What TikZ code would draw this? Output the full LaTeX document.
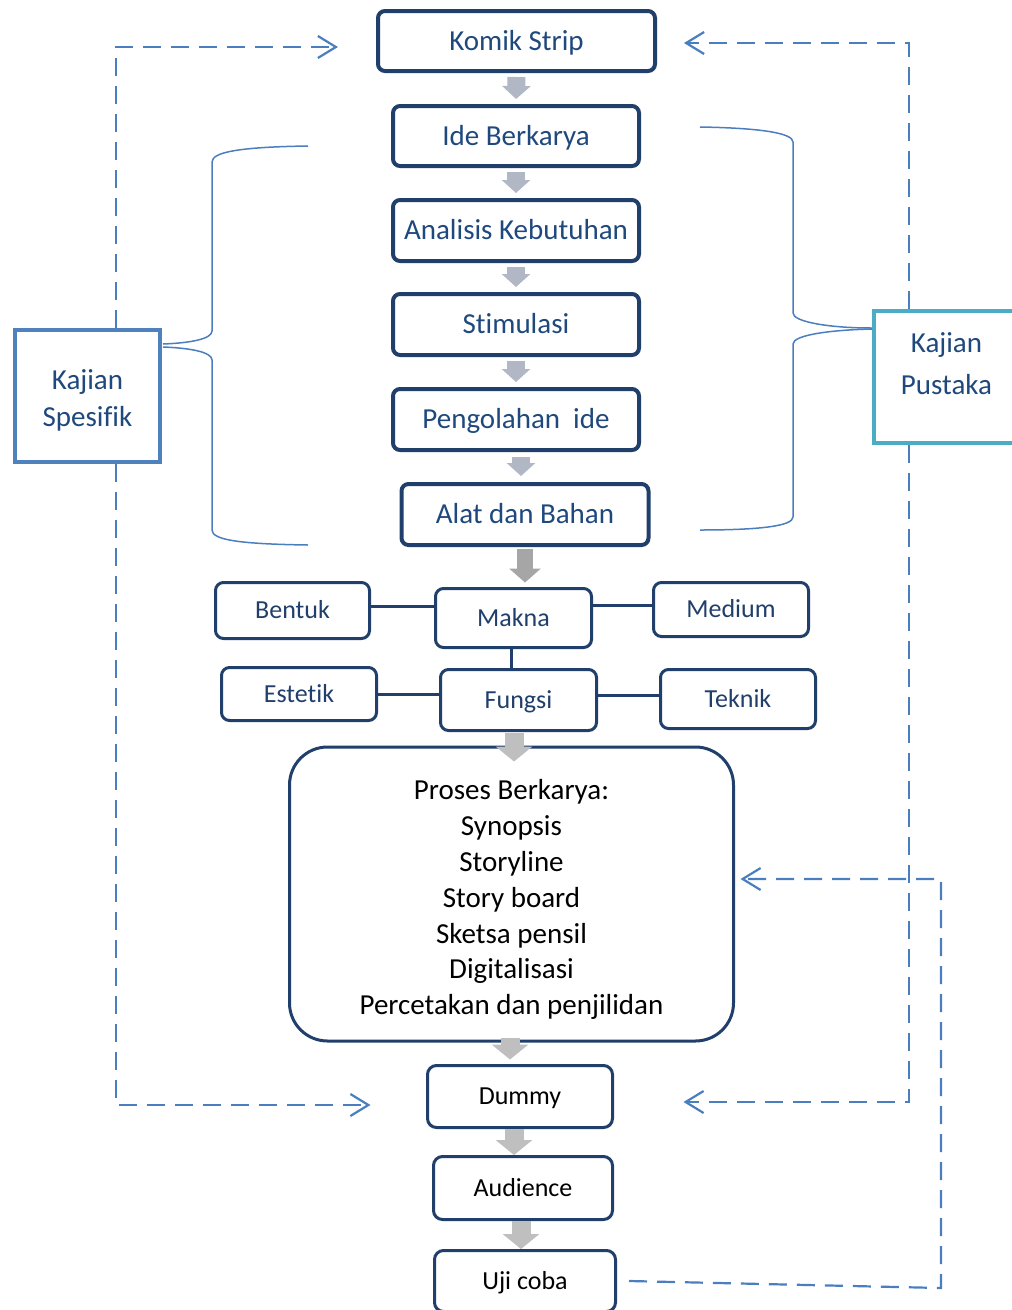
\documentclass[tikz,border=0pt]{standalone}
\usepackage{fontspec}
\setmainfont{Carlito}[Ligatures=NoCommon]
\usepackage{tikz}
\usetikzlibrary{arrows.meta}
\definecolor{boxline}{HTML}{213F6B}
\definecolor{txtblue}{HTML}{1F497D}
\definecolor{dashblue}{HTML}{4A7EBF}
\definecolor{spesline}{HTML}{4F81BD}
\definecolor{pustline}{HTML}{4BACC6}
\definecolor{arrtop}{HTML}{B1B7C4}
\definecolor{arrmid}{HTML}{A6A6A6}
\definecolor{arrlow}{HTML}{BFBFBF}

\begin{document}
\begin{tikzpicture}[x=1pt,y=-1pt,
    topbox/.style={draw=boxline, line width=4pt, rounded corners=7pt, fill=white, text=txtblue,
      font=\fontsize{29}{35}\selectfont, text height=25pt, text depth=6.5pt,
      minimum width=246pt, minimum height=60pt, inner sep=0pt},
    sidebox/.style={draw=boxline, line width=3pt, rounded corners=8pt, fill=white, text=boxline,
      font=\fontsize{26}{32}\selectfont, text height=22pt, text depth=5.3pt,
      minimum width=155pt, inner sep=0pt},
    lowbox/.style={draw=boxline, line width=3pt, rounded corners=9pt, fill=white, text=black,
      font=\fontsize{26}{32}\selectfont, text height=22pt, text depth=5.3pt, inner sep=0pt},
    kajian/.style={line width=4pt, fill=white, text=txtblue, align=center, inner sep=0pt,
      minimum width=145pt, minimum height=132pt},
    toparr/.style={draw=arrtop, line width=18pt, -{Triangle[length=13pt,width=28pt]},
      shorten <=4pt, shorten >=5pt},
    midarr/.style={draw=arrmid, line width=16pt, -{Triangle[length=14pt,width=31pt]}},
    lowarr/.style={draw=arrlow, line width=19pt, -{Triangle[length=15pt,width=36pt]}},
    dasharr/.style={draw=dashblue, line width=2.2pt, dash pattern=on 18pt off 10pt,
      -{Straight Barb[length=18pt,width=22pt]}},
    brace/.style={draw=dashblue, line width=1.5pt}]
  \useasboundingbox (0,0) rectangle (1012,1310);

  % Main column
  \node[topbox, minimum width=277pt] (komik) at (516.5,41) {Komik Strip};
  \node[topbox] (ide) at (516,136) {Ide Berkarya};
  \node[topbox, minimum height=61pt] (anal) at (516,230.5) {Analisis Kebutuhan};
  \node[topbox, minimum height=61pt] (stim) at (516,324.5) {Stimulasi};
  \node[topbox, minimum height=61pt] (peng) at (516,419.5) {Pengolahan\ \ ide};
  \node[topbox, minimum width=247pt, minimum height=61pt] (alat) at (525,514.5) {Alat dan Bahan};

  % Makna / Fungsi rows
  \node[sidebox, minimum width=156pt, minimum height=59pt] (makna) at (513.5,618) {Makna};
  \node[sidebox, minimum width=154pt, minimum height=56pt] (bentuk) at (292.5,610.5) {Bentuk};
  \node[sidebox, minimum height=54pt] (medium) at (731,609.5) {Medium};
  \node[sidebox, minimum height=53pt] (estetik) at (299,694) {Estetik};
  \node[sidebox, minimum width=156pt, minimum height=61pt] (fungsi) at (518.5,700) {Fungsi};
  \node[sidebox, minimum height=59pt] (teknik) at (738,699) {Teknik};
  \draw[boxline, line width=3pt] ([yshift=4.5pt]bentuk.east) -- ([yshift=4.5pt]bentuk.east -| makna.west);
  \draw[boxline, line width=3pt] ([yshift=4.5pt]medium.west) -- ([yshift=4.5pt]medium.west -| makna.east);
  \draw[boxline, line width=3pt] (makna.south -| 511,0) -- (fungsi.north -| 511,0);
  \draw[boxline, line width=3pt] (estetik.east) -- (estetik.east -| fungsi.west);
  \draw[boxline, line width=3pt] ([yshift=4pt]teknik.west) -- ([yshift=4pt]teknik.west -| fungsi.east);

  % Process and test boxes
  \node[draw=boxline, line width=3pt, fill=white, inner sep=0pt, rounded corners=38pt,
    minimum width=444pt, minimum height=294pt, align=center,
    font=\fontsize{29}{35.8}\selectfont] (proses) at (511.5,894)
    {\rule{0pt}{31.5pt}Proses Berkarya:\\Synopsis\\Storyline\\Story board\\Sketsa pensil\\Digitalisasi\\Percetakan dan penjilidan};
  \node[lowbox, minimum width=185pt, minimum height=62pt] (dummy) at (520,1096.5) {Dummy};
  \node[lowbox, minimum width=179pt, minimum height=63pt] (aud) at (523,1188) {Audience};
  \node[lowbox, minimum width=181pt, minimum height=61pt] (uji) at (525,1281) {Uji coba};

  % Kajian boxes
  \node[kajian, draw=spesline, font=\fontsize{29}{37}\selectfont] (spes) at (87.5,396)
    {\rule{0pt}{28.5pt}Kajian\\Spesifik};
  \node[kajian, draw=pustline, font=\fontsize{29}{42}\selectfont, text depth=35pt] (pust) at (946.5,376.5)
    {\rule{0pt}{28.5pt}Kajian\\Pustaka};

  % Gray block arrows
  \draw[toparr] (komik.south) -- (ide.north);
  \draw[toparr] (ide.south) -- (anal.north);
  \draw[toparr] (anal.south) -- (stim.north);
  \draw[toparr] (stim.south) -- (peng.north);
  \draw[toparr, shorten <=5pt, shorten >=6pt] (peng.south -| 521,0) -- (alat.north -| 521,0);
  \draw[midarr, shorten <=2pt, shorten >=4.5pt] (alat.south -| 525,0) -- (makna.north -| 525,0);
  \draw[lowarr, shorten <=1pt, shorten >=-16pt] (fungsi.south -| 514,0) -- (proses.north -| 514,0);
  \draw[lowarr, shorten <=-5pt, shorten >=4.5pt] (proses.south -| 510,0) -- (dummy.north -| 510,0);
  \draw[lowarr] (dummy.south -| 514,0) -- (aud.north -| 514,0);
  \draw[lowarr] (aud.south -| 521,0) -- (uji.north -| 521,0);

  % Braces
  \draw[brace] (308,146) .. controls (240,147) and (212,152) .. (212,162) -- (212,331)
    .. controls (212,339) and (190,343) .. (163,344);
  \draw[brace] (163,347) .. controls (190,348) and (212,352) .. (212,360) -- (212,530)
    .. controls (212,540) and (240,544) .. (308,545);
  \draw[brace] (700,127) .. controls (760,128) and (793,133) .. (793,142) -- (793,313)
    .. controls (793,322) and (830,328) .. (872,328);
  \draw[brace] (872,329) .. controls (830,330) and (793,335) .. (793,344) -- (793,517)
    .. controls (793,526) and (760,530) .. (700,530);

  % Dashed feedback lines
  \draw[dasharr] ([xshift=28.5pt]spes.north) |- ([xshift=-38pt,yshift=-6pt]komik.west);
  \draw[dasharr] ([xshift=28.5pt]spes.south) |- ([xshift=-55.5pt,yshift=-8.5pt]dummy.west);
  \draw[dasharr] ([xshift=-37.5pt]pust.north) |- ([xshift=27pt,yshift=-2pt]komik.east);
  \draw[dasharr] ([xshift=-37.5pt]pust.south) |- ([xshift=69.5pt,yshift=-5.5pt]dummy.east);
  \draw[dasharr] ([xshift=12pt]uji.east) -- (941,1288) |- ([xshift=5.5pt,yshift=15pt]proses.east);
\end{tikzpicture}
\end{document}
